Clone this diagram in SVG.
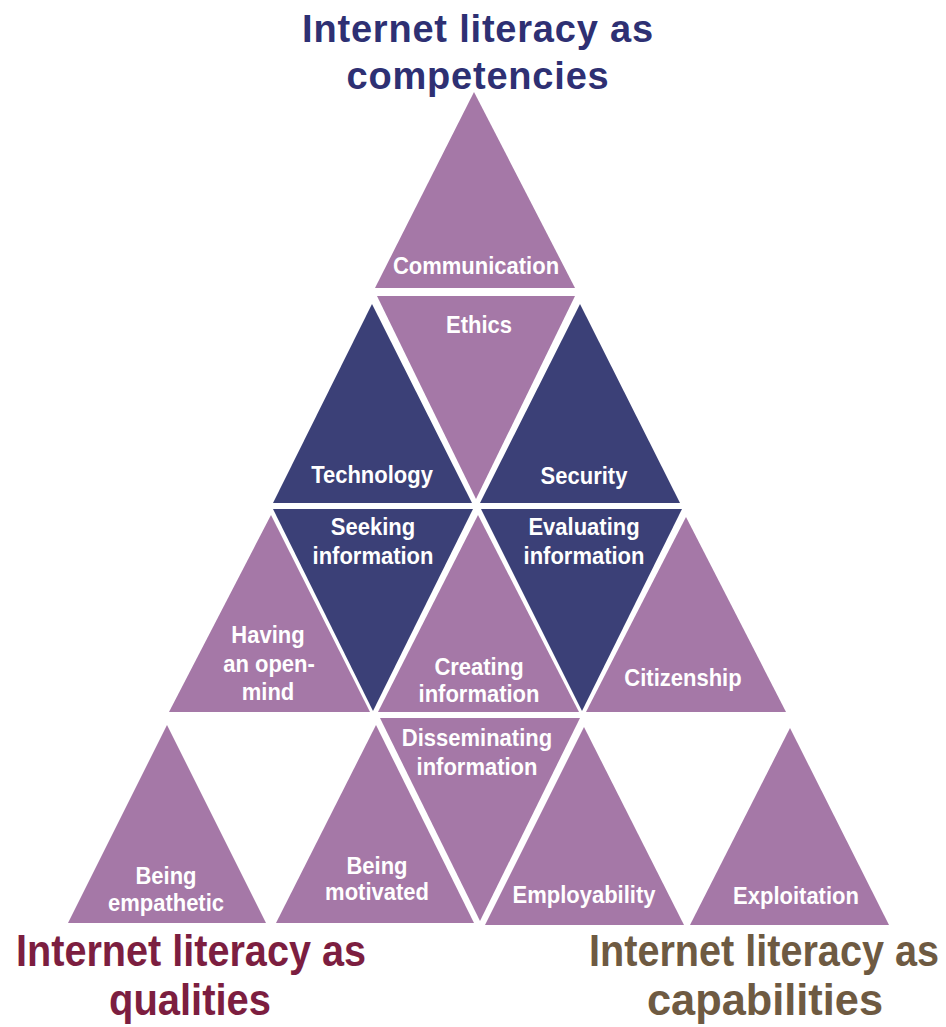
<svg xmlns="http://www.w3.org/2000/svg" width="946" height="1027" viewBox="0 0 946 1027">
<style>
.m{fill:#a578a7}
.d{fill:#3b4077}
.l{font-family:"Liberation Sans",Arial,sans-serif;font-weight:bold;font-size:22px;fill:#ffffff;text-anchor:middle}
.t{font-family:"Liberation Sans",Arial,sans-serif;font-weight:bold;text-anchor:middle}
</style>
<rect width="946" height="1027" fill="#ffffff"/>
<g id="title-competencies" class="t" fill="#2e3073" font-size="38" letter-spacing="0.8">
<text x="478" y="42">Internet literacy as</text>
<text x="478" y="89">competencies</text>
</g>
<g id="title-qualities" class="t" fill="#7c1e40" font-size="38">
<text transform="translate(191,966) scale(1,1.15)" x="0" y="0" textLength="350" lengthAdjust="spacingAndGlyphs">Internet literacy as</text>
<text transform="translate(190,1015) scale(1,1.15)" x="0" y="0" textLength="162" lengthAdjust="spacingAndGlyphs">qualities</text>
</g>
<g id="title-capabilities" class="t" fill="#6e5a42" font-size="38">
<text transform="translate(764,966) scale(1,1.15)" x="0" y="0" textLength="350" lengthAdjust="spacingAndGlyphs">Internet literacy as</text>
<text transform="translate(765,1015) scale(1,1.15)" x="0" y="0" textLength="236" lengthAdjust="spacingAndGlyphs">capabilities</text>
</g>
<g id="communication"><polygon class="m" points="474,92 375,288 575,288"/><text class="l" font-size="21.5" transform="translate(476,274) scale(1,1.12)">Communication</text></g>
<g id="ethics"><polygon class="m" points="377,296 575,296 476,499"/><text class="l" transform="translate(479,333) scale(1,1.12)">Ethics</text></g>
<g id="technology"><polygon class="d" points="372,304 273,503 472,503"/><text class="l" transform="translate(372,483) scale(1,1.12)">Technology</text></g>
<g id="security"><polygon class="d" points="580,304 480,503 680,503"/><text class="l" transform="translate(584,484) scale(1,1.12)">Security</text></g>
<g id="seeking-information"><polygon class="d" points="273,509 473,509 373,711"/><text class="l" transform="translate(373,535) scale(1,1.12)">Seeking</text><text class="l" transform="translate(373,564) scale(1,1.12)">information</text></g>
<g id="evaluating-information"><polygon class="d" points="481,509 682,509 582,711"/><text class="l" transform="translate(584,535) scale(1,1.12)">Evaluating</text><text class="l" transform="translate(584,564) scale(1,1.12)">information</text></g>
<g id="having-open-mind"><polygon class="m" points="271,515 169,712 370,712"/><text class="l" transform="translate(268,643) scale(1,1.12)">Having</text><text class="l" transform="translate(269,672) scale(1,1.12)">an open-</text><text class="l" transform="translate(268,700) scale(1,1.12)">mind</text></g>
<g id="creating-information"><polygon class="m" points="478,515 378,712 579,712"/><text class="l" transform="translate(479,675) scale(1,1.12)">Creating</text><text class="l" transform="translate(479,702) scale(1,1.12)">information</text></g>
<g id="citizenship"><polygon class="m" points="686,517 586,712 786,712"/><text class="l" transform="translate(683,686) scale(1,1.12)">Citizenship</text></g>
<g id="disseminating-information"><polygon class="m" points="380,718 580,718 480,921"/><text class="l" transform="translate(477,746) scale(1,1.12)">Disseminating</text><text class="l" transform="translate(477,775) scale(1,1.12)">information</text></g>
<g id="being-empathetic"><polygon class="m" points="167,725 68,923 266,923"/><text class="l" transform="translate(166,884) scale(1,1.12)">Being</text><text class="l" transform="translate(166,911) scale(1,1.12)">empathetic</text></g>
<g id="being-motivated"><polygon class="m" points="376,725 276,923 474,923"/><text class="l" transform="translate(377,874) scale(1,1.12)">Being</text><text class="l" transform="translate(377,900) scale(1,1.12)">motivated</text></g>
<g id="employability"><polygon class="m" points="584,727 485,925 684,925"/><text class="l" transform="translate(584,903) scale(1,1.12)">Employability</text></g>
<g id="exploitation"><polygon class="m" points="790,728 690,925 889,925"/><text class="l" transform="translate(796,904) scale(1,1.12)">Exploitation</text></g>
<g id="connectors"></g>
</svg>
